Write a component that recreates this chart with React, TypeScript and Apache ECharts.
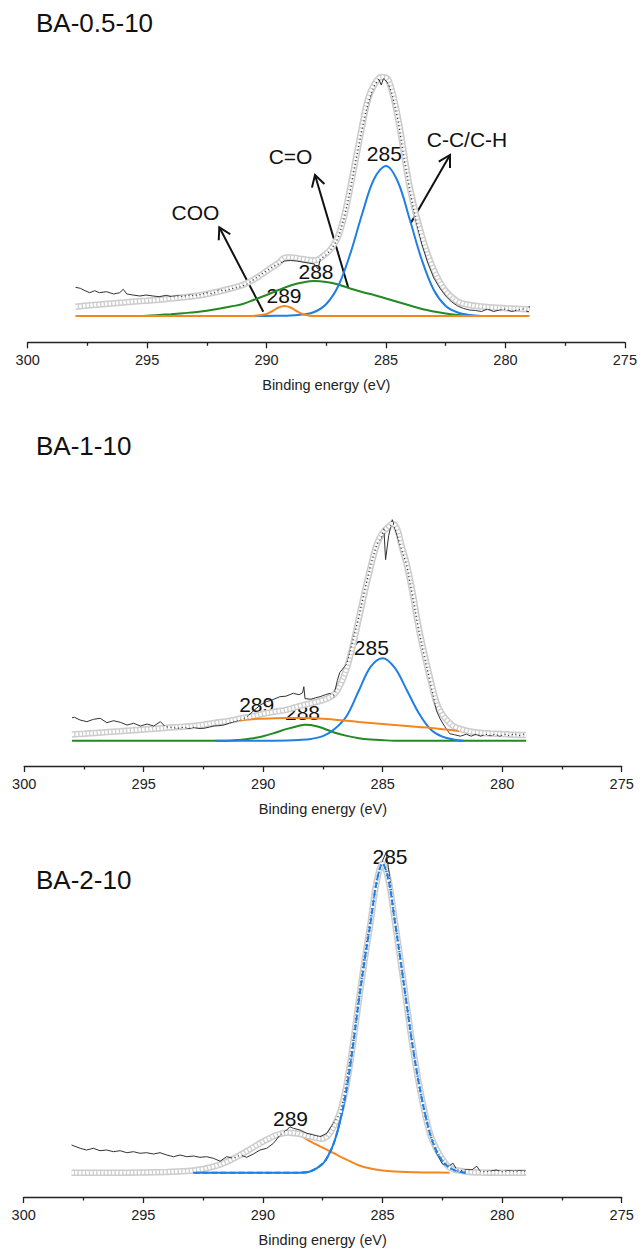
import { useEffect, useRef } from "react";
import * as echarts from "echarts";

type Pt = [number, number];

// ---------- BA-0.5-10 (binding energy eV, intensity a.u.) ----------
const ba05Envelope: Pt[] = [
  [298, 9.3], [297.5, 10.5], [297, 11.5], [296.5, 12.5], [296, 13.5], [295.5, 14.5], [295, 15.3],
  [294.5, 16.2], [294, 17.5], [293.5, 18.7], [293, 20], [292.5, 22], [292, 24.5], [291.5, 27.5],
  [291, 31], [290.5, 37], [290, 45], [289.5, 53], [289.2, 58.5], [289, 58.5], [288.5, 57],
  [288, 55.5], [287.5, 62.5], [287.25, 69], [287, 80], [286.75, 100], [286.5, 128], [286, 190],
  [285.75, 217], [285.5, 231], [285.2, 239], [284.9, 236], [284.5, 198], [284, 128], [283.5, 80],
  [283, 46], [282.5, 25], [282, 14.5], [281.5, 11], [281, 9.5], [280.5, 8.5], [280, 7.8],
  [279.5, 7.2], [279, 6.7],
];
const ba05Raw: Pt[] = [
  [298, 28.7], [297.8, 27.7], [297.6, 25.3], [297.4, 23.3], [297.2, 25.3], [297, 23.3], [296.7, 24.3],
  [296.4, 22], [296.15, 23.3], [296, 26.7], [295.85, 22], [295.6, 21], [295.3, 20], [295.05, 21],
  [294.75, 20], [294.5, 19.3], [294.2, 20.7], [294, 19.5], [293.75, 20.2], [293.5, 19.6],
  [293.25, 20.8], [293, 20.6], [292.75, 21.5], [292.5, 23.3], [292.25, 22], [292, 26], [291.7, 25.3],
  [291.4, 27.7], [291.15, 28.7], [290.85, 31.5], [290.5, 37], [290.25, 41.5], [290, 45],
  [289.75, 49], [289.5, 52], [289.25, 55], [289, 55.5], [288.75, 55], [288.5, 54], [288.25, 53],
  [288, 52], [287.85, 47], [287.75, 57], [287.5, 61], [287.25, 68], [287, 78], [286.75, 98],
  [286.5, 125], [286.25, 157], [286, 187], [285.75, 213], [285.5, 230], [285.3, 237], [285.2, 231],
  [285.1, 238], [284.9, 232], [284.75, 222], [284.5, 196], [284.25, 158], [284, 124], [283.75, 96],
  [283.5, 72], [283.25, 53], [283, 38], [282.75, 28], [282.5, 20], [282.25, 14], [282, 10],
  [281.75, 7.5], [281.5, 6], [281.25, 5.5], [281, 4.5], [280.75, 7], [280.5, 4.5], [280.25, 6],
  [280, 7], [279.75, 4.5], [279.5, 6], [279.25, 7], [279.05, 4], [279, 10],
];
const ba05C285: Pt[] = [
  [290.5, 0], [290, 0], [289.5, 0.2], [289, 0.5], [288.5, 1.5], [288, 4], [287.5, 12], [287, 30],
  [286.5, 62], [286, 102], [285.5, 137], [285, 150], [284.5, 134], [284, 96], [283.5, 56],
  [283, 26], [282.5, 10], [282, 3.5], [281.5, 1], [281, 0],
];
const ba05C288: Pt[] = [
  [295.5, 0], [295, 0.3], [294.5, 1], [294, 1.8], [293.5, 2.8], [293, 3.8], [292.5, 5.3], [292, 7.3],
  [291.5, 9.5], [291, 12], [290.5, 16.5], [290, 21], [289.5, 26], [289, 30.5], [288.5, 33.5],
  [288, 35], [287.5, 34], [287, 31.5], [286.5, 27.5], [286, 24], [285.5, 21], [285, 17.5],
  [284.5, 14], [284, 10.5], [283.5, 7], [283, 4.5], [282.5, 2.5], [282, 1], [281.5, 0.3], [281, 0],
];
const ba05C289: Pt[] = [
  [298, 0], [291, 0], [290.5, 0.3], [290, 2], [289.75, 5], [289.5, 8.5], [289.25, 10], [289, 8.5],
  [288.75, 5], [288.5, 2], [288.25, 0.5], [288, 0], [279, 0],
];

// ---------- BA-1-10 ----------
const ba1Envelope: Pt[] = [
  [298, 6.3], [297.5, 7], [297, 7.8], [296.5, 8.6], [296, 9.4], [295.5, 10.3], [295, 11.2],
  [294.5, 12], [294, 13], [293.5, 13.8], [293, 14.6], [292.5, 16], [292, 18], [291.5, 19.5],
  [291, 22], [290.5, 24], [290, 27], [289.5, 29], [289, 31], [288.5, 34.5], [288, 37.5],
  [287.5, 40.5], [287.25, 43], [287, 47], [286.75, 57], [286.5, 73], [286.25, 95], [286, 122],
  [285.75, 149], [285.5, 174], [285.25, 196], [285, 208], [284.75, 214], [284.6, 217], [284.4, 212],
  [284.2, 194], [284, 177], [283.75, 148], [283.5, 114], [283.25, 86], [283, 61], [282.75, 38],
  [282.5, 26], [282.25, 19], [282, 14], [281.5, 10], [281, 8], [280.5, 7.2], [280, 6.6],
  [279.5, 6], [279, 5.7],
];
const ba1Raw: Pt[] = [
  [298, 23], [297.9, 23.4], [297.66, 20.7], [297.38, 19], [297.1, 21.4], [296.82, 22.4],
  [296.54, 18], [296.26, 20], [295.98, 18.4], [295.7, 15.7], [295.42, 17.4], [295.14, 14.7],
  [294.86, 16.7], [294.58, 14.7], [294.3, 19], [294.1, 14], [293.85, 13.4], [293.6, 12.4],
  [293.32, 13.4], [293.1, 12.2], [292.9, 13.4], [292.7, 12.2], [292.48, 12.4], [292.25, 13.6],
  [292.06, 14.7], [291.85, 15], [291.64, 15.7], [291.42, 17.5], [291.22, 19], [290.94, 20.7],
  [290.7, 23.5], [290.4, 30], [290.1, 36], [289.86, 39], [289.6, 41], [289.3, 44], [289.05, 44.5],
  [288.74, 47.4], [288.5, 46], [288.35, 48], [288.3, 54], [288.25, 42], [288, 41.5], [287.8, 43],
  [287.62, 44], [287.4, 46], [287.2, 47.4], [287.06, 43.5], [286.9, 60], [286.8, 68], [286.6, 74],
  [286.5, 77], [286.25, 100], [286, 124], [285.75, 151], [285.5, 176], [285.25, 196],
  [285.05, 203], [284.95, 212], [284.88, 181], [284.75, 205], [284.6, 221], [284.5, 213],
  [284.25, 194], [284, 176], [283.75, 144], [283.5, 111], [283.25, 83], [283, 57], [282.75, 30],
  [282.6, 22], [282.4, 14], [282.2, 7], [282, 6], [281.75, 4.5], [281.5, 6.5], [281.3, 4.5],
  [281.1, 6.5], [280.9, 4.5], [280.7, 6.5], [280.5, 5], [280.3, 6.5], [280.1, 4.5], [279.9, 6.5],
  [279.7, 5], [279.5, 7], [279.3, 5], [279.1, 6.5], [279, 5],
];
const ba1C285: Pt[] = [
  [292, 0], [290, 0], [289, 0.3], [288.5, 0.8], [288, 1.8], [287.5, 4.5], [287, 12], [286.5, 25],
  [286, 50], [285.5, 74], [285, 82.5], [284.5, 73], [284, 51], [283.5, 28], [283, 11.5],
  [282.5, 4], [282, 1], [281.6, 0],
];
const ba1C288: Pt[] = [
  [298, 0], [291.5, 0], [291, 0.8], [290.5, 2.2], [290, 4.5], [289.5, 8], [289, 11.8], [288.5, 15],
  [288.25, 16], [288, 15.7], [287.5, 12.5], [287, 8], [286.5, 4.8], [286, 2.5], [285.5, 1.2],
  [285, 0.5], [284.5, 0], [279, 0],
];
const ba1C289: Pt[] = [
  [290.95, 20.5], [290.5, 21.5], [290, 22], [289.5, 22.4], [289, 22.6], [288.5, 22.6], [288, 22.4],
  [287.5, 22], [287, 21], [286.5, 20], [286, 18.8], [285.5, 17.8], [285, 16.8], [284.5, 15.8],
  [284, 14.8], [283.5, 13.8], [283, 12.8], [282.5, 11.5], [282, 10.2], [281.8, 9.6],
];

// ---------- BA-2-10 ----------
const ba2Envelope: Pt[] = [
  [298, 0], [297, 0], [296, 0], [295, 0.3], [294, 0.8], [293.5, 1.3], [293, 2], [292.5, 3.8],
  [292, 6.5], [291.5, 11], [291, 17], [290.5, 24], [290, 31], [289.5, 37], [289, 40], [288.5, 39],
  [288, 36], [287.5, 34], [287.25, 38], [287, 48], [286.75, 62], [286.5, 88], [286.25, 126],
  [286, 170], [285.75, 212], [285.5, 250], [285.25, 290], [285, 309], [284.75, 293], [284.5, 254],
  [284.25, 213], [284, 170], [283.75, 128], [283.5, 92], [283.25, 62], [283, 38], [282.75, 24],
  [282.5, 14], [282.25, 6], [282, 3], [281.5, 1], [281, 0.3], [280, 0], [279, 0],
];
const ba2Raw: Pt[] = [
  [298, 27.7], [297.64, 24.4], [297.37, 22.7], [297.09, 24.4], [296.81, 22], [296.53, 22.7],
  [296.25, 21], [295.97, 22], [295.69, 20], [295.41, 21], [295.14, 19.4], [294.86, 20],
  [294.58, 18.7], [294.3, 20], [294.02, 17.7], [293.74, 16], [293.46, 17.7], [293.18, 16],
  [292.9, 16.7], [292.63, 15.4], [292.35, 16], [292.07, 14.4], [291.79, 11.5], [291.51, 16],
  [291.23, 14.4], [290.95, 17.7], [290.68, 15.4], [290.4, 18.7], [290.12, 22.7], [289.84, 24.4],
  [289.56, 29.4], [289.28, 37.7], [289, 42.7], [288.87, 46], [288.73, 44.4], [288.45, 42.7],
  [288.17, 39.4], [287.89, 37.7], [287.61, 36], [287.33, 39.4], [287.05, 49.4], [286.77, 59.4],
  [286.64, 72.7], [286.5, 92], [286.25, 130], [286, 176], [285.75, 218], [285.5, 255],
  [285.25, 292], [285, 312], [284.85, 320], [284.75, 305], [284.5, 258], [284.25, 215], [284, 172],
  [283.75, 130], [283.5, 92], [283.25, 60], [283, 36], [282.75, 20], [282.5, 9], [282.25, 6],
  [282.05, 9.5], [281.9, 3], [281.75, 2], [281.5, 3], [281.25, 3], [281.06, 6.5], [280.9, 1],
  [280.5, 1.5], [280.25, 2.7], [280, 1], [279.75, 2], [279.5, 1.5], [279.25, 2], [279, 1.5],
];
const ba2C285: Pt[] = [
  [292.9, 0], [288.5, 0], [288, 1.5], [287.5, 9], [287.25, 18], [287, 32], [286.75, 54],
  [286.5, 84], [286.25, 124], [286, 170], [285.75, 212], [285.5, 250], [285.25, 290], [285, 309],
  [284.75, 293], [284.5, 254], [284.25, 213], [284, 170], [283.75, 128], [283.5, 92], [283.25, 62],
  [283, 38], [282.75, 22], [282.5, 12], [282.25, 6], [282, 2.5], [281.75, 1], [281.5, 0],
];
const ba2C289: Pt[] = [
  [293, 0.8], [292.5, 2.5], [292, 5.5], [291.5, 10], [291, 16], [290.5, 23], [290, 30], [289.5, 36],
  [289, 39.5], [288.5, 38], [288, 31], [287.5, 25], [287, 19], [286.5, 13], [286, 7.5],
  [285.5, 4.2], [285, 2.3], [284.5, 1.2], [284, 0.6], [283, 0.2], [282.2, 0],
];

const panelTitles = ["BA-0.5-10", "BA-1-10", "BA-2-10"];
const axisTitle = "Binding energy (eV)";

const BLUE = "#1f7fe3";
const GREEN = "#238a23";
const ORANGE = "#f5861f";
const FONT = "'Liberation Sans', Arial, Helvetica, sans-serif";

// Plot area of each panel in page pixels; `base` = gap between the axis line and zero intensity.
const layout = [
  { left: 27.7, right: 14.3, top: 60, height: 282.3, base: 26.3 },
  { left: 24.2, right: 18.3, top: 480, height: 286, base: 25.3 },
  { left: 23.7, right: 18.3, top: 840, height: 357, base: 24.3 },
];

// `under` components sit beneath the envelope circles, `over` ones above them,
// `dashed` ones are re-stroked in dashes on top of the circles.
const panels = [
  {
    env: ba05Envelope, raw: ba05Raw, under: [], dashed: [],
    over: [[ba05C288, GREEN], [ba05C285, BLUE], [ba05C289, ORANGE]],
  },
  {
    env: ba1Envelope, raw: ba1Raw, under: [], dashed: [],
    over: [[ba1C288, GREEN], [ba1C285, BLUE], [ba1C289, ORANGE]],
  },
  {
    env: ba2Envelope, raw: ba2Raw, under: [[ba2C289, ORANGE]],
    over: [[ba2C285, BLUE]], dashed: [[ba2C285, BLUE]],
  },
] as { env: Pt[]; raw: Pt[]; under: [Pt[], string][]; over: [Pt[], string][]; dashed: [Pt[], string][] }[];

function label(text: string, x: number, y: number, size = 21, align = "center") {
  return {
    type: "text",
    x,
    y,
    silent: true,
    style: {
      text,
      fontSize: size,
      fontFamily: FONT,
      fill: "#111",
      textAlign: align,
      textVerticalAlign: "middle",
      align,
      verticalAlign: "middle",
    },
  };
}

function arrow(x1: number, y1: number, x2: number, y2: number) {
  const ang = Math.atan2(y2 - y1, x2 - x1);
  const L = 13;
  const a = Math.PI / 6;
  const w1 = [x2 - L * Math.cos(ang - a), y2 - L * Math.sin(ang - a)];
  const w2 = [x2 - L * Math.cos(ang + a), y2 - L * Math.sin(ang + a)];
  return [
    { type: "line", silent: true, shape: { x1, y1, x2, y2 }, style: { stroke: "#111", lineWidth: 2 } },
    {
      type: "polyline",
      silent: true,
      shape: { points: [w1, [x2, y2], w2] },
      style: { stroke: "#111", lineWidth: 2, fill: null },
    },
  ];
}

export default function App() {
  const ref = useRef<HTMLDivElement>(null);

  useEffect(() => {
    document.body.style.margin = "0";
    if (!ref.current) return;
    const chart = echarts.init(ref.current, undefined, { renderer: "svg" });

    const series: any[] = [];
    panels.forEach((p, i) => {
      const common = { xAxisIndex: i, yAxisIndex: i, symbol: "none", silent: true };
      const comp = ([data, color]: [Pt[], string], type: any = "solid") => ({
        ...common,
        type: "line",
        data,
        smooth: 0.35,
        lineStyle: { color, width: 2, type },
      });
      p.under.forEach((c) => series.push(comp(c)));
      // fitted envelope: grey chain of open circles
      series.push({
        ...common,
        type: "line",
        data: p.env,
        smooth: 0.35,
        lineStyle: { color: "#cdcdcd", width: 6.5 },
      });
      series.push({
        ...common,
        type: "line",
        data: p.raw,
        lineStyle: { color: "#333", width: 1 },
      });
      p.over.forEach((c) => series.push(comp(c)));
      series.push({
        ...common,
        type: "line",
        data: p.env,
        smooth: 0.35,
        lineStyle: { color: "#ffffff", width: 3.4, type: [2.4, 1.3] },
      });
      p.dashed.forEach((c) => series.push(comp(c, [6, 3])));
    });

    const graphic: any[] = [
      label(panelTitles[0], 36, 23, 26, "left"),
      label(panelTitles[1], 36, 446, 26, "left"),
      label(panelTitles[2], 36, 880, 26, "left"),
      // BA-0.5-10 annotations
      label("COO", 195.5, 212.5),
      label("C=O", 290.5, 156),
      label("285", 384.3, 153),
      label("C-C/C-H", 467, 139),
      label("288", 316, 271),
      label("289", 284, 295.5),
      ...arrow(263.3, 311.7, 219.3, 227.3),
      ...arrow(348.3, 287.7, 315, 175),
      ...arrow(410.7, 223.3, 450, 155),
      // BA-1-10 annotations
      label("285", 371.3, 647.5),
      label("289", 256.7, 704.7),
      label("288", 302.5, 712.5),
      // BA-2-10 annotations
      label("285", 390, 856.7),
      label("289", 290.5, 1118),
    ];

    chart.setOption({
      animation: false,
      backgroundColor: "#ffffff",
      grid: layout.map((g) => ({ left: g.left, right: g.right, top: g.top, height: g.height })),
      xAxis: layout.map((_, i) => ({
        type: "value",
        gridIndex: i,
        min: 275,
        max: 300,
        interval: 5,
        inverse: true,
        name: axisTitle,
        nameLocation: "middle",
        nameGap: 35,
        nameTextStyle: { fontSize: 14.5, color: "#222", fontFamily: FONT },
        axisLine: { show: true, onZero: false, lineStyle: { color: "#222", width: 1.3 } },
        axisTick: { show: true, inside: false, length: 6, lineStyle: { color: "#222", width: 1.3 } },
        minorTick: { show: true, splitNumber: 2, length: 3.5, lineStyle: { color: "#222", width: 1.3 } },
        axisLabel: { fontSize: 14.5, color: "#222", margin: 10, fontFamily: FONT },
        splitLine: { show: false },
        minorSplitLine: { show: false },
      })),
      yAxis: layout.map((g, i) => ({
        type: "value",
        gridIndex: i,
        min: -g.base,
        max: g.height - g.base,
        show: false,
        splitLine: { show: false },
      })),
      series,
      graphic,
    });

    return () => chart.dispose();
  }, []);

  return <div ref={ref} style={{ width: 640, height: 1250 }} />;
}
